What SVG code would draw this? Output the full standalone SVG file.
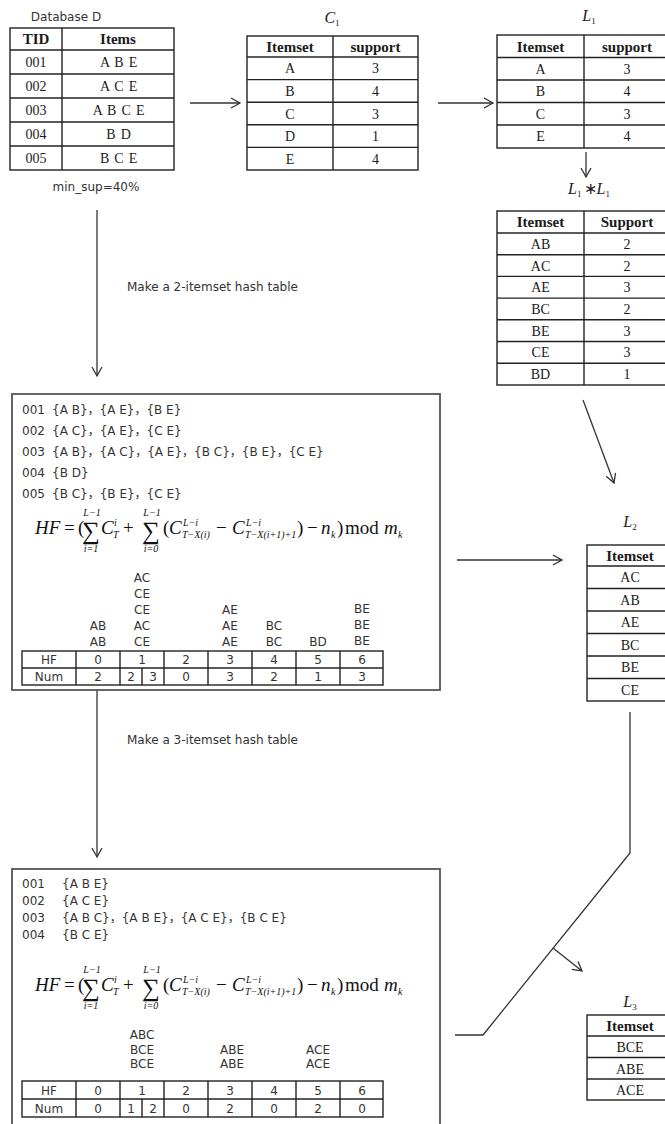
<svg xmlns="http://www.w3.org/2000/svg" xmlns:xlink="http://www.w3.org/1999/xlink" width="665" height="1124" viewBox="0 0 665 1124">
<style>
  .grid rect, .grid line { stroke:#222; stroke-width:1.4; fill:none; }
  .th { font-family:"Liberation Serif", serif; font-weight:bold; font-size:15px; text-anchor:middle; fill:#1a1a1a; }
  .td { font-family:"Liberation Serif", serif; font-size:14px; text-anchor:middle; fill:#1a1a1a; }
  .sans { font-family:"DejaVu Sans", "Noto Sans CJK SC", sans-serif; font-size:12px; fill:#333; }
  .mid { text-anchor:middle; }
  .conn { stroke:#333; stroke-width:1.3; fill:none; }
  .box { stroke:#555; stroke-width:1.8; fill:#fff; }
  .math { font-family:"Liberation Serif", serif; fill:#111; }
  .it { font-style:italic; }
  .lbl { font-family:"Liberation Serif", serif; font-style:italic; font-size:16px; fill:#222; text-anchor:middle; }
  .sub { font-size:9px; font-style:normal; }
</style>
<defs>
  <marker id="arrow" markerUnits="userSpaceOnUse" markerWidth="12" markerHeight="12" refX="10" refY="6" orient="auto">
    <path d="M1,1 L10,6 L1,11" fill="none" stroke="#333" stroke-width="1.3"/>
  </marker>
  <!-- hash function, drawn around a main baseline at y=0 -->
  <g id="hf-formula" class="math">
    <text class="it" x="35" y="0" font-size="19">HF</text>
    <text x="64" y="0" font-size="19">=</text>
    <text x="78" y="0" font-size="19">(</text>
    <text x="91" y="5" font-size="25" text-anchor="middle">∑</text>
    <text class="it" x="92" y="-18" font-size="10" text-anchor="middle">L−1</text>
    <text class="it" x="91" y="18" font-size="10" text-anchor="middle">i=1</text>
    <text class="it" x="101" y="0" font-size="19">C</text>
    <text class="it" x="114" y="-8" font-size="10">i</text>
    <text class="it" x="113" y="4" font-size="10">T</text>
    <text x="123" y="0" font-size="19">+</text>
    <text x="151" y="5" font-size="25" text-anchor="middle">∑</text>
    <text class="it" x="152" y="-18" font-size="10" text-anchor="middle">L−1</text>
    <text class="it" x="151" y="18" font-size="10" text-anchor="middle">i=0</text>
    <text x="163" y="0" font-size="19">(</text>
    <text class="it" x="169" y="0" font-size="19">C</text>
    <text class="it" x="183" y="-8" font-size="10">L−i</text>
    <text class="it" x="182" y="4" font-size="10">T−X(i)</text>
    <text x="216" y="0" font-size="19">−</text>
    <text class="it" x="232" y="0" font-size="19">C</text>
    <text class="it" x="246" y="-8" font-size="10">L−i</text>
    <text class="it" x="245" y="4" font-size="10">T−X(i+1)+1</text>
    <text x="297" y="0" font-size="19">)</text>
    <text x="307" y="0" font-size="19">−</text>
    <text class="it" x="321" y="0" font-size="19">n</text>
    <text class="it" x="331" y="4" font-size="10">k</text>
    <text x="337" y="0" font-size="19">)</text>
    <text x="345" y="0" font-size="19">mod</text>
    <text class="it" x="384" y="0" font-size="19">m</text>
    <text class="it" x="398" y="4" font-size="10">k</text>
  </g>
</defs>

<rect width="665" height="1124" fill="#fff"/>

<!-- connectors -->
<g id="connectors" class="conn">
  <line x1="190" y1="103" x2="240" y2="103" marker-end="url(#arrow)"/>
  <line x1="438" y1="103" x2="493" y2="103" marker-end="url(#arrow)"/>
  <line x1="586" y1="152" x2="586" y2="177" marker-end="url(#arrow)"/>
  <line x1="97" y1="210" x2="97" y2="376" marker-end="url(#arrow)"/>
  <line x1="583" y1="400" x2="614" y2="483" marker-end="url(#arrow)"/>
  <line x1="457" y1="560" x2="562" y2="560" marker-end="url(#arrow)"/>
  <line x1="97" y1="690" x2="97" y2="857" marker-end="url(#arrow)"/>
  <polyline points="630,712 630,853 483,1035 455,1035"/>
  <line x1="553" y1="948" x2="582" y2="971" marker-end="url(#arrow)"/>
</g>

<!-- Database D -->
<g id="database">
  <text class="sans mid" x="66" y="21">Database D</text>
  <g class="grid">
    <rect x="10" y="28" width="164" height="142"/>
    <line x1="62" y1="28" x2="62" y2="170"/>
    <line x1="10" y1="50" x2="174" y2="50"/>
    <line x1="10" y1="74" x2="174" y2="74"/>
    <line x1="10" y1="98" x2="174" y2="98"/>
    <line x1="10" y1="122" x2="174" y2="122"/>
    <line x1="10" y1="146" x2="174" y2="146"/>
  </g>
  <text class="th" x="36" y="44">TID</text>
  <text class="th" x="118" y="44">Items</text>
  <text class="td" x="36" y="67">001</text>
  <text class="td" x="36" y="91">002</text>
  <text class="td" x="36" y="115">003</text>
  <text class="td" x="36" y="139">004</text>
  <text class="td" x="36" y="163">005</text>
  <text class="td" x="119" y="67" letter-spacing="0.8">A B E</text>
  <text class="td" x="119" y="91" letter-spacing="0.8">A C E</text>
  <text class="td" x="119" y="115" letter-spacing="0.8">A B C E</text>
  <text class="td" x="119" y="139" letter-spacing="0.8">B D</text>
  <text class="td" x="119" y="163" letter-spacing="0.8">B C E</text>
  <text class="sans mid" x="96" y="191">min_sup=40%</text>
</g>

<!-- C1 -->
<g id="c1">
  <text class="lbl" x="332" y="23">C<tspan class="sub" dy="3">1</tspan></text>
  <g class="grid">
    <rect x="247" y="36" width="171" height="134"/>
    <line x1="333" y1="36" x2="333" y2="170"/>
    <line x1="247" y1="57" x2="418" y2="57"/>
    <line x1="247" y1="79.6" x2="418" y2="79.6"/>
    <line x1="247" y1="102.2" x2="418" y2="102.2"/>
    <line x1="247" y1="124.8" x2="418" y2="124.8"/>
    <line x1="247" y1="147.4" x2="418" y2="147.4"/>
  </g>
  <text class="th" x="290" y="51.5">Itemset</text>
  <text class="th" x="375.5" y="51.5">support</text>
  <text class="td" x="290" y="73.3">A</text><text class="td" x="375.5" y="73.3">3</text>
  <text class="td" x="290" y="95.9">B</text><text class="td" x="375.5" y="95.9">4</text>
  <text class="td" x="290" y="118.5">C</text><text class="td" x="375.5" y="118.5">3</text>
  <text class="td" x="290" y="141.1">D</text><text class="td" x="375.5" y="141.1">1</text>
  <text class="td" x="290" y="163.7">E</text><text class="td" x="375.5" y="163.7">4</text>
</g>

<!-- L1 -->
<g id="l1">
  <text class="lbl" x="589" y="21">L<tspan class="sub" dy="3">1</tspan></text>
  <g class="grid">
    <rect x="497" y="35" width="178" height="113"/>
    <line x1="584" y1="35" x2="584" y2="148"/>
    <line x1="497" y1="57.5" x2="675" y2="57.5"/>
    <line x1="497" y1="80" x2="675" y2="80"/>
    <line x1="497" y1="102.5" x2="675" y2="102.5"/>
    <line x1="497" y1="125" x2="675" y2="125"/>
  </g>
  <text class="th" x="540.5" y="51.5">Itemset</text>
  <text class="th" x="627" y="51.5">support</text>
  <text class="td" x="540.5" y="73.7">A</text><text class="td" x="627" y="73.7">3</text>
  <text class="td" x="540.5" y="96.2">B</text><text class="td" x="627" y="96.2">4</text>
  <text class="td" x="540.5" y="118.7">C</text><text class="td" x="627" y="118.7">3</text>
  <text class="td" x="540.5" y="141.2">E</text><text class="td" x="627" y="141.2">4</text>
</g>

<!-- L1 * L1 -->
<g id="l1-join">
  <text class="lbl" x="589" y="194">L<tspan class="sub" dy="3">1</tspan><tspan dy="-3" dx="2" font-style="normal">∗</tspan><tspan>L</tspan><tspan class="sub" dy="3">1</tspan></text>
  <g class="grid">
    <rect x="497" y="211" width="178" height="174"/>
    <line x1="584" y1="211" x2="584" y2="385"/>
    <line x1="497" y1="233" x2="675" y2="233"/>
    <line x1="497" y1="254.7" x2="675" y2="254.7"/>
    <line x1="497" y1="276.4" x2="675" y2="276.4"/>
    <line x1="497" y1="298.1" x2="675" y2="298.1"/>
    <line x1="497" y1="319.8" x2="675" y2="319.8"/>
    <line x1="497" y1="341.5" x2="675" y2="341.5"/>
    <line x1="497" y1="363.2" x2="675" y2="363.2"/>
  </g>
  <text class="th" x="540.5" y="227">Itemset</text>
  <text class="th" x="627" y="227">Support</text>
  <text class="td" x="540.5" y="248.8">AB</text><text class="td" x="627" y="248.8">2</text>
  <text class="td" x="540.5" y="270.5">AC</text><text class="td" x="627" y="270.5">2</text>
  <text class="td" x="540.5" y="292.2">AE</text><text class="td" x="627" y="292.2">3</text>
  <text class="td" x="540.5" y="313.9">BC</text><text class="td" x="627" y="313.9">2</text>
  <text class="td" x="540.5" y="335.6">BE</text><text class="td" x="627" y="335.6">3</text>
  <text class="td" x="540.5" y="357.3">CE</text><text class="td" x="627" y="357.3">3</text>
  <text class="td" x="540.5" y="379">BD</text><text class="td" x="627" y="379">1</text>
</g>

<text id="step2-label" class="sans" x="127" y="291">Make a 2-itemset hash table</text>

<!-- 2-itemset hash table -->
<g id="hash2">
  <rect class="box" x="12" y="394" width="428" height="296"/>
  <g class="sans">
    <text x="22" y="414">001</text><text x="52" y="414">{A B}，{A E}，{B E}</text>
    <text x="22" y="435">002</text><text x="52" y="435">{A C}，{A E}，{C E}</text>
    <text x="22" y="456">003</text><text x="52" y="456">{A B}，{A C}，{A E}，{B C}，{B E}，{C E}</text>
    <text x="22" y="477">004</text><text x="52" y="477">{B D}</text>
    <text x="22" y="498">005</text><text x="52" y="498">{B C}，{B E}，{C E}</text>
  </g>
  <use xlink:href="#hf-formula" href="#hf-formula" x="0" y="534"/>
  <g class="sans mid">
    <text x="142" y="582">AC</text>
    <text x="142" y="598">CE</text>
    <text x="142" y="614">CE</text>
    <text x="142" y="630">AC</text>
    <text x="142" y="646">CE</text>
    <text x="98" y="630">AB</text>
    <text x="98" y="646">AB</text>
    <text x="230" y="614">AE</text>
    <text x="230" y="630">AE</text>
    <text x="230" y="646">AE</text>
    <text x="274" y="630">BC</text>
    <text x="274" y="646">BC</text>
    <text x="318" y="646">BD</text>
    <text x="362" y="613">BE</text>
    <text x="362" y="629">BE</text>
    <text x="362" y="645">BE</text>
  </g>
  <g class="grid">
    <rect x="22" y="651" width="361" height="34"/>
    <line x1="22" y1="668" x2="383" y2="668"/>
    <line x1="76" y1="651" x2="76" y2="685"/>
    <line x1="120" y1="651" x2="120" y2="685"/>
    <line x1="142" y1="668" x2="142" y2="685"/>
    <line x1="164" y1="651" x2="164" y2="685"/>
    <line x1="208" y1="651" x2="208" y2="685"/>
    <line x1="252" y1="651" x2="252" y2="685"/>
    <line x1="296" y1="651" x2="296" y2="685"/>
    <line x1="340" y1="651" x2="340" y2="685"/>
  </g>
  <g class="sans mid">
    <text x="49" y="664">HF</text>
    <text x="98" y="664">0</text><text x="142" y="664">1</text><text x="186" y="664">2</text>
    <text x="230" y="664">3</text><text x="274" y="664">4</text><text x="318" y="664">5</text><text x="362" y="664">6</text>
    <text x="49" y="681">Num</text>
    <text x="98" y="681">2</text><text x="131" y="681">2</text><text x="153" y="681">3</text><text x="186" y="681">0</text>
    <text x="230" y="681">3</text><text x="274" y="681">2</text><text x="318" y="681">1</text><text x="362" y="681">3</text>
  </g>
</g>

<!-- L2 -->
<g id="l2">
  <text class="lbl" x="630" y="527">L<tspan class="sub" dy="3">2</tspan></text>
  <g class="grid">
    <rect x="587" y="545" width="100" height="156"/>
    <line x1="672" y1="545" x2="672" y2="701"/>
    <line x1="587" y1="566" x2="687" y2="566"/>
    <line x1="587" y1="588.5" x2="687" y2="588.5"/>
    <line x1="587" y1="611" x2="687" y2="611"/>
    <line x1="587" y1="633.5" x2="687" y2="633.5"/>
    <line x1="587" y1="656" x2="687" y2="656"/>
    <line x1="587" y1="678.5" x2="687" y2="678.5"/>
  </g>
  <text class="th" x="630" y="561">Itemset</text>
  <text class="td" x="630" y="582">AC</text>
  <text class="td" x="630" y="604.5">AB</text>
  <text class="td" x="630" y="627">AE</text>
  <text class="td" x="630" y="649.5">BC</text>
  <text class="td" x="630" y="672">BE</text>
  <text class="td" x="630" y="694.5">CE</text>
</g>

<text id="step3-label" class="sans" x="127" y="744">Make a 3-itemset hash table</text>

<!-- 3-itemset hash table -->
<g id="hash3">
  <rect class="box" x="12" y="869" width="428" height="270"/>
  <g class="sans">
    <text x="22" y="888">001</text><text x="62" y="888">{A B E}</text>
    <text x="22" y="905">002</text><text x="62" y="905">{A C E}</text>
    <text x="22" y="922">003</text><text x="62" y="922">{A B C}，{A B E}，{A C E}，{B C E}</text>
    <text x="22" y="939">004</text><text x="62" y="939">{B C E}</text>
  </g>
  <use xlink:href="#hf-formula" href="#hf-formula" x="0" y="991"/>
  <g class="sans mid">
    <text x="142" y="1039">ABC</text>
    <text x="142" y="1054">BCE</text>
    <text x="142" y="1068">BCE</text>
    <text x="232" y="1054">ABE</text>
    <text x="232" y="1068">ABE</text>
    <text x="318" y="1054">ACE</text>
    <text x="318" y="1068">ACE</text>
  </g>
  <g class="grid">
    <rect x="22" y="1081" width="361" height="36"/>
    <line x1="22" y1="1099" x2="383" y2="1099"/>
    <line x1="76" y1="1081" x2="76" y2="1117"/>
    <line x1="120" y1="1081" x2="120" y2="1117"/>
    <line x1="142" y1="1099" x2="142" y2="1117"/>
    <line x1="164" y1="1081" x2="164" y2="1117"/>
    <line x1="208" y1="1081" x2="208" y2="1117"/>
    <line x1="252" y1="1081" x2="252" y2="1117"/>
    <line x1="296" y1="1081" x2="296" y2="1117"/>
    <line x1="340" y1="1081" x2="340" y2="1117"/>
  </g>
  <g class="sans mid">
    <text x="49" y="1094.5">HF</text>
    <text x="98" y="1094.5">0</text><text x="142" y="1094.5">1</text><text x="186" y="1094.5">2</text>
    <text x="230" y="1094.5">3</text><text x="274" y="1094.5">4</text><text x="318" y="1094.5">5</text><text x="362" y="1094.5">6</text>
    <text x="49" y="1112.5">Num</text>
    <text x="98" y="1112.5">0</text><text x="131" y="1112.5">1</text><text x="153" y="1112.5">2</text><text x="186" y="1112.5">0</text>
    <text x="230" y="1112.5">2</text><text x="274" y="1112.5">0</text><text x="318" y="1112.5">2</text><text x="362" y="1112.5">0</text>
  </g>
</g>

<!-- L3 -->
<g id="l3">
  <text class="lbl" x="630" y="1007">L<tspan class="sub" dy="3">3</tspan></text>
  <g class="grid">
    <rect x="587" y="1015" width="100" height="85"/>
    <line x1="672" y1="1015" x2="672" y2="1100"/>
    <line x1="587" y1="1036" x2="687" y2="1036"/>
    <line x1="587" y1="1057.5" x2="687" y2="1057.5"/>
    <line x1="587" y1="1079" x2="687" y2="1079"/>
  </g>
  <text class="th" x="630" y="1031">Itemset</text>
  <text class="td" x="630" y="1052">BCE</text>
  <text class="td" x="630" y="1073.5">ABE</text>
  <text class="td" x="630" y="1095">ACE</text>
</g>
</svg>
